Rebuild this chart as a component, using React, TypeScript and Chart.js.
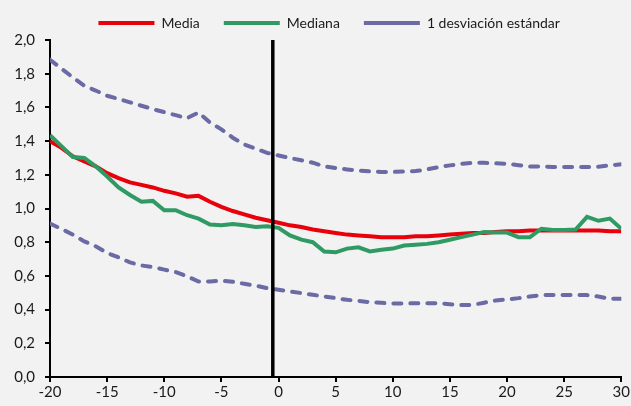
import React, { useEffect, useRef } from 'react';
import { Chart, registerables } from 'chart.js';
Chart.register(...registerables);

const periods = [-20, -19, -18, -17, -16, -15, -14, -13, -12, -11, -10, -9, -8, -7, -6, -5, -4, -3, -2, -1, 0, 1, 2, 3, 4, 5, 6, 7, 8, 9, 10, 11, 12, 13, 14, 15, 16, 17, 18, 19, 20, 21, 22, 23, 24, 25, 26, 27, 28, 29, 30];

const media = [1.40, 1.36, 1.31, 1.28, 1.25, 1.21, 1.18, 1.155, 1.14, 1.125, 1.105, 1.09, 1.07, 1.075, 1.04, 1.01, 0.985, 0.965, 0.945, 0.93, 0.915, 0.90, 0.89, 0.875, 0.865, 0.855, 0.845, 0.84, 0.835, 0.83, 0.83, 0.83, 0.835, 0.835, 0.84, 0.845, 0.85, 0.855, 0.855, 0.86, 0.865, 0.865, 0.87, 0.87, 0.87, 0.87, 0.87, 0.87, 0.87, 0.865, 0.865];

const mediana = [1.435, 1.37, 1.305, 1.30, 1.25, 1.19, 1.125, 1.08, 1.04, 1.045, 0.99, 0.99, 0.96, 0.94, 0.905, 0.90, 0.908, 0.90, 0.89, 0.895, 0.885, 0.84, 0.815, 0.80, 0.745, 0.74, 0.762, 0.77, 0.745, 0.755, 0.762, 0.78, 0.785, 0.79, 0.80, 0.815, 0.83, 0.845, 0.86, 0.857, 0.857, 0.83, 0.83, 0.88, 0.872, 0.872, 0.875, 0.95, 0.927, 0.94, 0.88];

const sdUpper = [1.883, 1.83, 1.778, 1.728, 1.70, 1.669, 1.65, 1.63, 1.61, 1.59, 1.572, 1.554, 1.536, 1.57, 1.51, 1.47, 1.42, 1.38, 1.355, 1.33, 1.315, 1.30, 1.286, 1.272, 1.25, 1.24, 1.232, 1.225, 1.22, 1.217, 1.217, 1.22, 1.222, 1.232, 1.246, 1.256, 1.265, 1.271, 1.271, 1.268, 1.265, 1.257, 1.25, 1.25, 1.246, 1.246, 1.246, 1.246, 1.248, 1.256, 1.262];

const sdLower = [0.91, 0.879, 0.845, 0.805, 0.776, 0.736, 0.71, 0.68, 0.662, 0.652, 0.637, 0.623, 0.597, 0.567, 0.567, 0.571, 0.565, 0.553, 0.542, 0.527, 0.518, 0.508, 0.498, 0.488, 0.478, 0.468, 0.458, 0.452, 0.444, 0.44, 0.436, 0.436, 0.438, 0.438, 0.438, 0.432, 0.427, 0.428, 0.441, 0.454, 0.46, 0.468, 0.478, 0.486, 0.486, 0.486, 0.486, 0.486, 0.478, 0.464, 0.464];

const seriesLabels = ['Media', 'Mediana', '1 desviación estándar'];
const VLINE_X = -0.5;
const Y_MIN = 0;
const Y_MAX = 2;
const X_MIN = -20;
const X_MAX = 30;

const FONT = 'Lato, "DejaVu Sans", sans-serif';

const legendShift = {
  id: 'legendShift',
  afterLayout(chart: any) {
    const l = chart.legend;
    if (l) {
      l.left -= 6.5;
      l.right -= 6.5;
    }
  },
};

export default function App() {
  const ref = useRef<HTMLCanvasElement>(null);
  useEffect(() => {
    const pts = (vals: number[]) => periods.map((x, i) => ({ x, y: vals[i] }));
    const purple = '#6a6aa4';
    const chart = new Chart(ref.current as HTMLCanvasElement, {
      type: 'line',
      data: {
        datasets: [
          { label: seriesLabels[0], data: pts(media), borderColor: '#e8000b', backgroundColor: '#e8000b', borderWidth: 4, pointRadius: 0, order: 4, tension: 0 },
          { label: seriesLabels[1], data: pts(mediana), borderColor: '#2f9a64', backgroundColor: '#2f9a64', borderWidth: 4, pointRadius: 0, order: 3, tension: 0 },
          { label: seriesLabels[2], data: pts(sdUpper), borderColor: purple, backgroundColor: purple, borderWidth: 4, borderDash: [8, 9], borderCapStyle: 'round', pointRadius: 0, order: 2 },
          { label: 'sdLower', data: pts(sdLower), borderColor: purple, backgroundColor: purple, borderWidth: 4, borderDash: [8, 9], borderCapStyle: 'round', pointRadius: 0, order: 1 },
          { label: 'vline', data: [{ x: VLINE_X, y: Y_MIN }, { x: VLINE_X, y: Y_MAX }], borderColor: '#000', backgroundColor: '#000', borderWidth: 3.5, pointRadius: 0, order: 0 },
        ],
      },
      plugins: [legendShift],
      options: {
        animation: false,
        responsive: true,
        maintainAspectRatio: false,
        layout: { padding: { top: -8, left: 0, right: 2, bottom: 0 } },
        plugins: {
          tooltip: { enabled: false },
          legend: {
            position: 'top',
            fullSize: false,
            reverse: true,
            maxHeight: 52,
            labels: {
              usePointStyle: true,
              pointStyle: 'line',
              pointStyleWidth: 56,
              padding: 24,
              color: '#1a1a1a',
              font: { family: FONT, size: 14 },
              filter: (item: any) => item.datasetIndex <= 2,
            },
          },
        },
        scales: {
          x: {
            type: 'linear',
            min: X_MIN,
            max: X_MAX,
            afterFit: (s: any) => { s.height = 29; },
            ticks: { stepSize: 5, color: '#1a1a1a', font: { family: FONT, size: 15 }, padding: 1, maxRotation: 0, autoSkip: false },
            grid: { display: true, drawOnChartArea: false, drawTicks: true, tickLength: 5, color: '#000', lineWidth: 2 },
            border: { display: true, color: '#000', width: 2 },
          },
          y: {
            min: Y_MIN,
            max: Y_MAX,
            afterFit: (s: any) => { s.width = 50; },
            ticks: {
              stepSize: 0.2,
              color: '#1a1a1a',
              font: { family: FONT, size: 15 },
              padding: 10,
              callback: (v: any) => Number(v).toFixed(1).replace('.', ','),
            },
            grid: { display: true, drawOnChartArea: false, drawTicks: true, tickLength: 5, color: '#000', lineWidth: 2 },
            border: { display: true, color: '#000', width: 2 },
          },
        },
      },
    } as any);
    return () => chart.destroy();
  }, []);
  return (
    <div style={{ position: 'fixed', left: 0, top: 0, width: 631, height: 406, background: '#f2f2f2' }}>
      <canvas ref={ref} />
    </div>
  );
}
